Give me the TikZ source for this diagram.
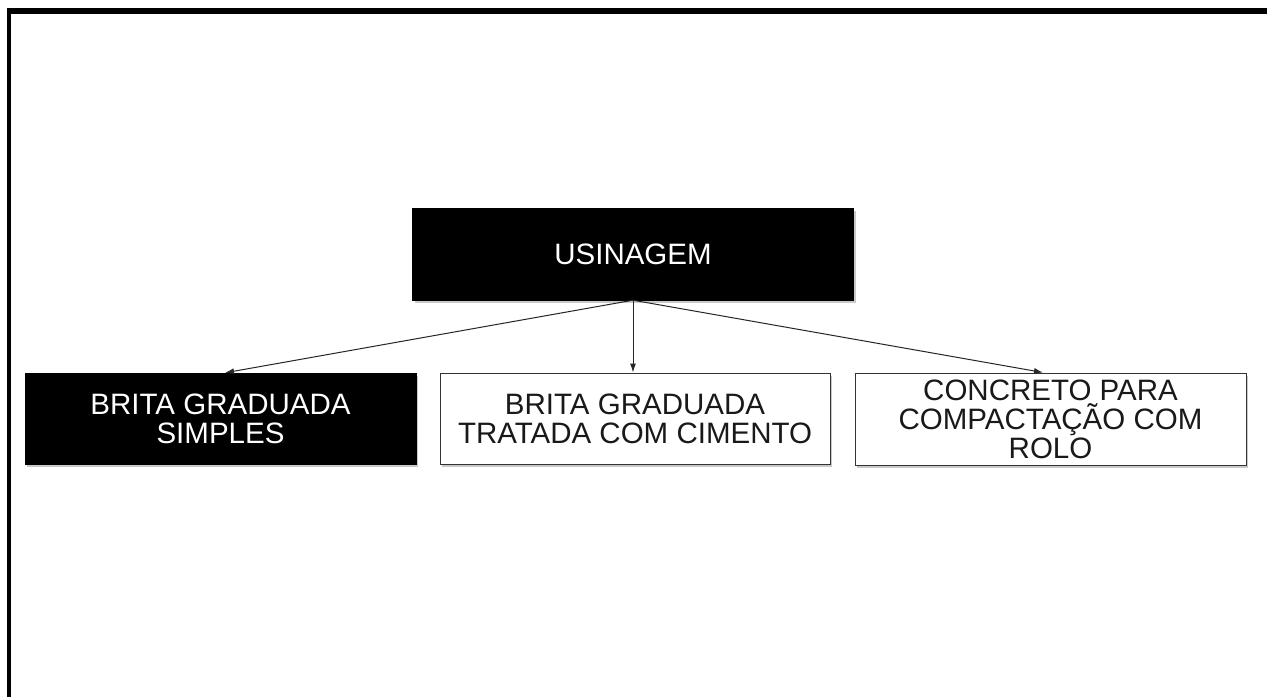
\documentclass[tikz,border=0pt]{standalone}
\usepackage{fontspec}
\setmainfont{Liberation Sans}
\usetikzlibrary{shadows,arrows.meta}
\tikzset{
  base/.style={rectangle, inner sep=0pt, align=center, font=\fontsize{29.5}{29}\selectfont,
    drop shadow={shadow xshift=2pt, shadow yshift=-2.5pt, opacity=0.35, fill=black!60}},
  darkbox/.style={base, fill=black, text=white, draw=black},
  lightbox/.style={base, fill=white, text=black!90, draw=black!80, line width=1pt},
  conn/.style={draw=black!85, line width=1pt, -{Latex[length=9pt,width=6pt]}}
}
\begin{document}
\begin{tikzpicture}[x=1pt,y=-1pt]
\useasboundingbox (0,0) rectangle (1267,697);
\fill[white] (0,0) rectangle (1267,697);
% frame
\fill[black] (7,8) rectangle (1267,14);
\fill[black] (7,8) rectangle (11,697);
% nodes
\node[darkbox, minimum width=441pt, minimum height=92pt] (u) at (633,254) {USINAGEM};
\node[darkbox, minimum width=391pt, minimum height=91pt] (b1) at (220.5,418.5) {BRITA GRADUADA\\SIMPLES};
\node[lightbox, minimum width=390pt, minimum height=91pt] (b2) at (635,418.5) {BRITA GRADUADA\\TRATADA COM CIMENTO};
\node[lightbox, minimum width=391pt, minimum height=92pt] (b3) at (1050.5,419) {CONCRETO PARA\\COMPACTAÇÃO COM\\ROLO};
% connectors
\coordinate (e1) at ([xshift=4.5pt]b1.north);
\coordinate (e3) at ([xshift=-7.5pt]b3.north);
\draw[conn] (u.south) -- (e1);
\draw[conn] (u.south) -- (u.south |- b2.north);
\draw[conn] (u.south) -- (e3);
\end{tikzpicture}
\end{document}
